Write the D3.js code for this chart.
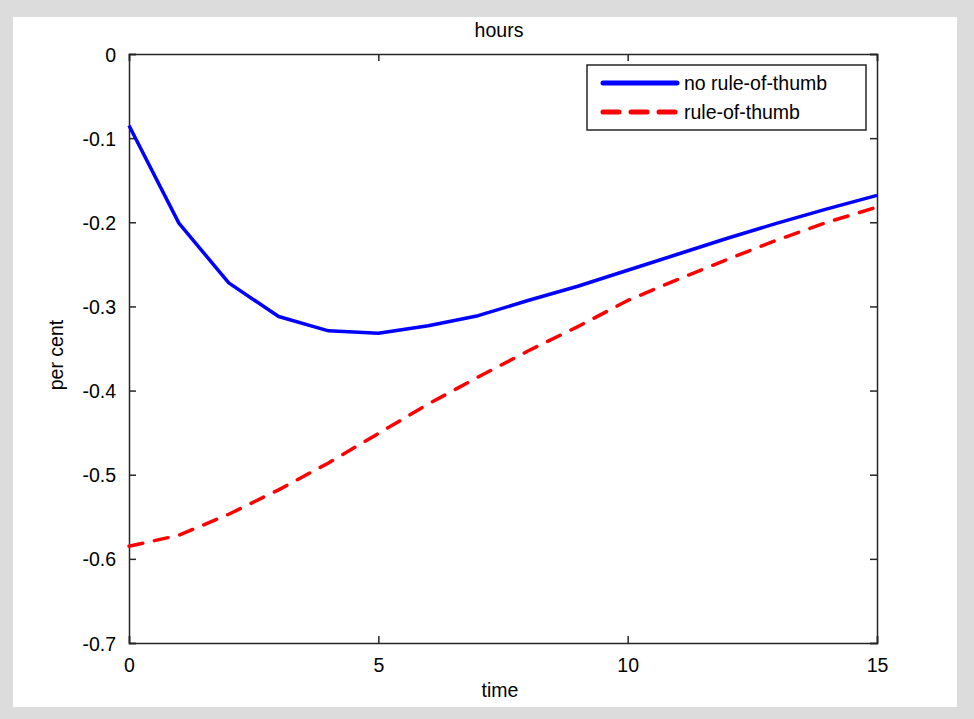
<!DOCTYPE html>
<html><head><meta charset="utf-8">
<script src="https://cdn.jsdelivr.net/npm/d3@7"></script>
<style>body{margin:0;background:#dcdcdc;}svg{display:block;font-family:"Liberation Sans",Arial,sans-serif;}</style>
</head><body>
<svg id="c" width="974" height="719"></svg>
<script>
const periods = d3.range(0, 16);
const noRuleOfThumb = [-0.085,-0.201,-0.272,-0.312,-0.329,-0.332,-0.323,-0.311,-0.293,-0.276,-0.257,-0.238,-0.219,-0.201,-0.184,-0.168];
const ruleOfThumb = [-0.585,-0.572,-0.547,-0.518,-0.486,-0.451,-0.416,-0.384,-0.353,-0.324,-0.293,-0.268,-0.244,-0.221,-0.200,-0.182];
const xTicks = [0,5,10,15];
const yTicks = [0,-0.1,-0.2,-0.3,-0.4,-0.5,-0.6,-0.7];
const seriesNames = ["no rule-of-thumb","rule-of-thumb"];

const svg = d3.select("#c");
svg.append("rect").attr("x",13).attr("y",17).attr("width",944).attr("height",690).attr("fill","#fff");

const L=129,R=877,T=54,B=643;
const x = d3.scaleLinear().domain([0,15]).range([L,R]);
const y = d3.scaleLinear().domain([-0.7,0]).range([B,T]);
const fs = 19.5, ax="#262626";

const fmt = d => d===0 ? "0" : d3.format(".1f")(d).replace("\u2212","-");
const gb = svg.append("g").attr("transform",`translate(0,${B})`)
  .call(d3.axisBottom(x).tickValues(xTicks).tickSize(-7).tickPadding(14).tickFormat(d3.format("d")));
const gt = svg.append("g").attr("transform",`translate(0,${T})`)
  .call(d3.axisTop(x).tickValues(xTicks).tickSize(-7).tickFormat(""));
const gl = svg.append("g").attr("transform",`translate(${L},0)`)
  .call(d3.axisLeft(y).tickValues(yTicks).tickSize(-7).tickPadding(14).tickFormat(fmt));
const gr = svg.append("g").attr("transform",`translate(${R},0)`)
  .call(d3.axisRight(y).tickValues(yTicks).tickSize(-7).tickFormat(""));
[gb,gt,gl,gr].forEach(g=>{
  g.selectAll("path").attr("stroke",ax).attr("stroke-width",1.5);
  g.selectAll("line").attr("stroke",ax).attr("stroke-width",1.5);
  g.selectAll("text").attr("fill","#000").style("font-size",fs+"px").style("font-family","'Liberation Sans',Arial,sans-serif");
});
gb.selectAll("text").attr("dy",null).attr("y",29);
gl.selectAll("text").attr("dy","0.36em").attr("x",-13);

const line = d3.line().x((d,i)=>x(periods[i])).y(d=>y(d));
svg.append("path").datum(noRuleOfThumb).attr("d",line).attr("fill","none").attr("stroke","#0000ff").attr("stroke-width",3.5).attr("stroke-linejoin","round");
svg.append("path").datum(ruleOfThumb).attr("d",line).attr("fill","none").attr("stroke","#ff0000").attr("stroke-width",3.5).attr("stroke-dasharray","14,12").attr("stroke-linecap","round");

svg.append("text").attr("x",499).attr("y",37).attr("text-anchor","middle").style("font-size",fs+"px").text("hours");
svg.append("text").attr("x",500).attr("y",697).attr("text-anchor","middle").style("font-size",fs+"px").text("time");
svg.append("text").attr("transform","translate(63,355) rotate(-90)").attr("text-anchor","middle").style("font-size",fs+"px").text("per cent");

const lg = svg.append("g");
lg.append("rect").attr("x",587).attr("y",65).attr("width",279).attr("height",65).attr("fill","#fff").attr("stroke",ax).attr("stroke-width",1.5);
const rows=[{c:"#0000ff",dash:null,w:5},{c:"#ff0000",dash:"16,12",w:5}];
rows.forEach((r,i)=>{
  const yy = 83 + i*29;
  const l = lg.append("line").attr("x1",603).attr("x2",677).attr("y1",yy).attr("y2",yy).attr("stroke",r.c).attr("stroke-width",r.w).attr("stroke-linecap","round");
  if(r.dash) l.attr("stroke-dasharray",r.dash);
  lg.append("text").attr("x",684).attr("y",yy+7).style("font-size",fs+"px").text(seriesNames[i]);
});
</script>
</body></html>
